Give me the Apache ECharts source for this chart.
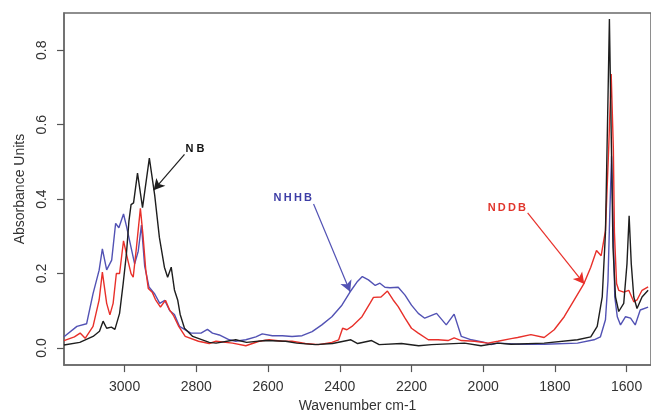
<!DOCTYPE html>
<html>
<head>
<meta charset="utf-8">
<script src="https://cdn.jsdelivr.net/npm/echarts@6/dist/echarts.min.js"></script>
<style>
html,body{margin:0;padding:0;background:#fff;}
#chart{width:651px;height:418px;}
</style>
</head>
<body>
<div id="chart"></div>
<script>
// ---- Data ----
const xTicks = [3000, 2800, 2600, 2400, 2200, 2000, 1800, 1600];
const yTicks = [0, 0.2, 0.4, 0.6, 0.8];

// NB (black)
const nbWave = [3169,3125,3088,3070,3060,3050,3037,3027,3014,3004,2995,2988,2982,2975,2964,2950,2931,2916,2903,2889,2880,2870,2861,2852,2845,2833,2810,2764,2745,2690,2660,2607,2551,2520,2468,2420,2369,2350,2311,2290,2228,2180,2144,2052,2006,1960,1922,1830,1737,1700,1682,1668,1659,1652,1648,1643,1638,1631,1622,1608,1599,1593,1587,1580,1571,1557,1540];
const nbAbs  = [0.008,0.015,0.031,0.045,0.072,0.053,0.056,0.05,0.093,0.173,0.252,0.34,0.385,0.39,0.47,0.377,0.51,0.41,0.297,0.217,0.19,0.217,0.156,0.129,0.09,0.053,0.031,0.015,0.013,0.022,0.015,0.02,0.018,0.013,0.009,0.012,0.022,0.012,0.02,0.009,0.012,0.006,0.009,0.013,0.006,0.013,0.01,0.013,0.022,0.03,0.058,0.137,0.31,0.669,0.884,0.58,0.27,0.137,0.098,0.12,0.226,0.355,0.226,0.137,0.106,0.137,0.155];

// NDDB (red)
const nddbWave = [3169,3140,3124,3110,3088,3071,3062,3050,3041,3032,3023,3014,3003,2991,2982,2976,2967,2956,2949,2941,2934,2923,2914,2900,2886,2875,2863,2849,2831,2794,2764,2745,2699,2662,2625,2597,2560,2533,2496,2459,2422,2403,2392,2380,2366,2338,2315,2306,2285,2267,2251,2237,2218,2200,2181,2153,2126,2098,2081,2061,2024,1987,1959,1922,1904,1867,1830,1802,1774,1746,1719,1700,1684,1671,1659,1650,1643,1637,1634,1628,1622,1608,1594,1580,1571,1557,1540];
const nddbAbs  = [0.02,0.03,0.04,0.026,0.058,0.129,0.204,0.12,0.089,0.12,0.2,0.2,0.288,0.236,0.2,0.19,0.27,0.375,0.306,0.21,0.16,0.15,0.13,0.11,0.128,0.103,0.086,0.058,0.031,0.018,0.012,0.018,0.013,0.006,0.018,0.022,0.018,0.018,0.012,0.009,0.015,0.022,0.053,0.049,0.058,0.084,0.121,0.136,0.137,0.153,0.129,0.111,0.08,0.053,0.04,0.022,0.022,0.02,0.027,0.02,0.018,0.013,0.018,0.025,0.028,0.036,0.028,0.049,0.084,0.129,0.173,0.217,0.262,0.248,0.315,0.536,0.736,0.536,0.31,0.173,0.155,0.15,0.155,0.124,0.129,0.155,0.164];

// NHHB (blue)
const nhhbWave = [3169,3133,3106,3088,3071,3062,3050,3036,3025,3016,3003,2995,2984,2972,2962,2953,2944,2932,2916,2902,2888,2874,2861,2847,2833,2815,2787,2769,2755,2736,2708,2690,2662,2634,2616,2588,2560,2533,2505,2477,2450,2422,2394,2371,2352,2337,2320,2301,2288,2274,2260,2237,2218,2200,2181,2163,2130,2103,2081,2061,2033,1996,1978,1959,1900,1830,1737,1691,1673,1659,1652,1647,1642,1637,1633,1626,1617,1603,1589,1576,1562,1540];
const nhhbAbs  = [0.03,0.058,0.065,0.146,0.209,0.266,0.21,0.236,0.335,0.323,0.36,0.328,0.279,0.226,0.26,0.33,0.22,0.164,0.145,0.12,0.128,0.1,0.09,0.058,0.05,0.04,0.04,0.05,0.04,0.035,0.022,0.018,0.022,0.03,0.038,0.033,0.033,0.031,0.033,0.044,0.062,0.084,0.115,0.151,0.177,0.192,0.183,0.168,0.174,0.163,0.162,0.163,0.142,0.115,0.093,0.08,0.093,0.062,0.091,0.031,0.022,0.015,0.009,0.013,0.01,0.01,0.013,0.022,0.03,0.076,0.18,0.359,0.515,0.31,0.137,0.084,0.062,0.084,0.08,0.062,0.102,0.11];

// Annotations (data coordinates)
const nbLabelPos = [2804, 0.536];
const nbArrow = [[2833, 0.52], [2919, 0.424]];
const nhhbLabelPos = [2531, 0.403];
const nhhbArrow = [[2473, 0.387], [2371, 0.151]];
const nddbLabelPos = [1934, 0.376];
const nddbArrow = [[1876, 0.363], [1718, 0.172]];

// ---- Chart ----
const FONT = "'Liberation Sans', Arial, sans-serif";
function pairs(w, a) { return w.map((x, i) => [x, a[i]]); }

function makeSeries(name, wave, abs, color, textColor, label, labelPos, arrow) {
  return {
    name: name,
    type: 'line',
    data: pairs(wave, abs),
    showSymbol: false,
    symbol: 'none',
    lineStyle: { color: color, width: 1.4 },
    itemStyle: { color: color },
    clip: true,
    z: 2,
    markLine: {
      silent: true,
      symbol: ['none', 'arrow'],
      symbolSize: [9, 11],
      label: { show: false },
      lineStyle: { color: color, width: 1.2, type: 'solid' },
      data: [[{ coord: arrow[0] }, { coord: arrow[1] }]],
      animation: false
    },
    markPoint: {
      silent: true,
      symbol: 'rect',
      symbolSize: 1,
      itemStyle: { color: 'rgba(0,0,0,0)' },
      label: {
        show: true, position: 'inside', formatter: label,
        color: textColor, fontWeight: 'bold', fontSize: 11, fontFamily: FONT
      },
      data: [{ coord: labelPos }],
      animation: false
    }
  };
}

const chart = echarts.init(document.getElementById('chart'), null, { renderer: 'canvas' });
chart.setOption({
  animation: false,
  backgroundColor: '#ffffff',
  grid: {
    left: 64, right: -3, top: 13, bottom: 49,
    show: true, borderColor: '#6a6a6a', borderWidth: 1.5, backgroundColor: '#ffffff'
  },
  xAxis: {
    type: 'value',
    inverse: true,
    min: 1532, max: 3169,
    axisLine: { show: true, onZero: false, lineStyle: { color: '#6a6a6a', width: 1.5 } },
    axisTick: { show: true, length: 7, customValues: xTicks, lineStyle: { color: '#555', width: 1.2 } },
    axisLabel: { customValues: xTicks, fontSize: 14, color: '#333', margin: 15, fontFamily: FONT,
      formatter: v => String(Math.round(v)) },
    splitLine: { show: false },
    name: 'Wavenumber cm-1',
    nameLocation: 'middle',
    nameGap: 31,
    nameTextStyle: { fontSize: 14, color: '#333', fontFamily: FONT }
  },
  yAxis: {
    type: 'value',
    min: -0.046, max: 0.9,
    axisLine: { show: true, onZero: false, lineStyle: { color: '#6a6a6a', width: 1.5 } },
    axisTick: { show: true, length: 7, customValues: yTicks, lineStyle: { color: '#555', width: 1.2 } },
    axisLabel: {
      customValues: yTicks, rotate: 90, fontSize: 14, color: '#333', margin: 15, fontFamily: FONT,
      formatter: v => v.toFixed(1)
    },
    splitLine: { show: false },
    name: 'Absorbance Units',
    nameLocation: 'middle',
    nameGap: 35,
    nameTextStyle: { fontSize: 14, color: '#333', fontFamily: FONT }
  },
  series: [
    makeSeries('NHHB', nhhbWave, nhhbAbs, '#5252b4', '#3d3da6', 'N\u2009H\u2009H\u2009B', nhhbLabelPos, nhhbArrow),
    makeSeries('NDDB', nddbWave, nddbAbs, '#e8302a', '#e0352c', 'N\u2009D\u2009D\u2009B', nddbLabelPos, nddbArrow),
    makeSeries('NB', nbWave, nbAbs, '#1e1e1e', '#111111', 'N B', nbLabelPos, nbArrow)
  ]
});
</script>
</body>
</html>
